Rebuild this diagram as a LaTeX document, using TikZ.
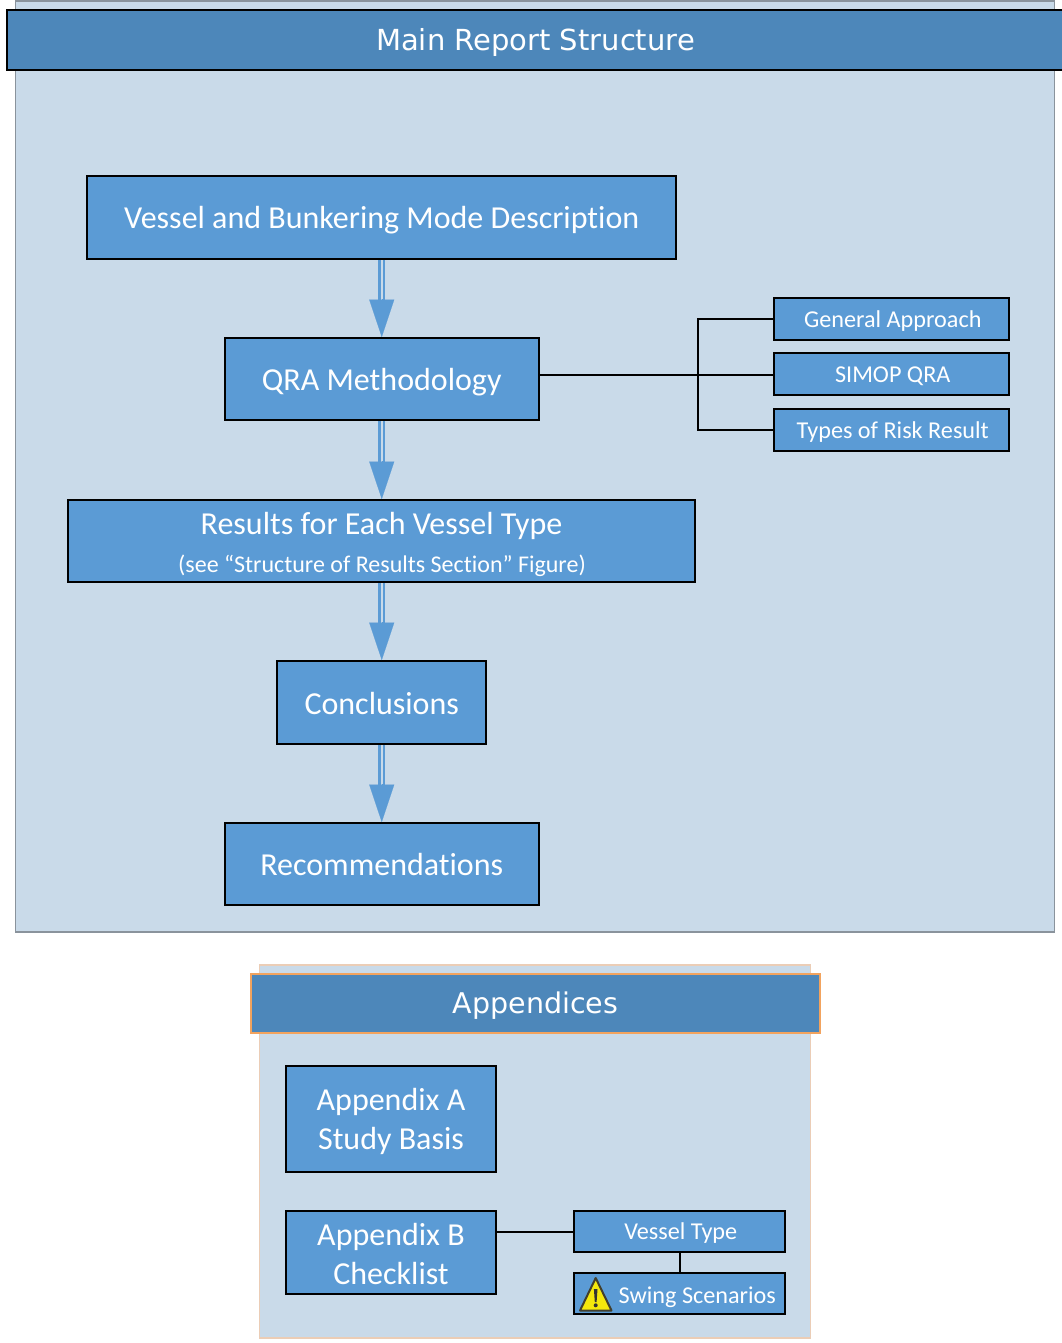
\documentclass[tikz,border=0pt]{standalone}
\usepackage{fontspec}
\setmainfont[Ligatures=NoCommon]{Carlito}
\newfontfamily\titlefont{DejaVu Sans}
\usetikzlibrary{arrows.meta}
\definecolor{panelfill}{HTML}{C9DAE9}
\definecolor{panelline}{HTML}{8A939C}
\definecolor{headfill}{HTML}{4D87BA}
\definecolor{boxfill}{HTML}{5B9BD5}
\definecolor{appline}{HTML}{EBCDB6}
\definecolor{headorange}{HTML}{F2A35E}
\tikzset{
  x=1pt,y=-1pt,
  panel/.style={anchor=north west,inner sep=0pt,outer sep=0pt,line width=1.5pt,fill=panelfill},
  head/.style={anchor=center,inner sep=0pt,line width=2pt,fill=headfill,text=white,text height=20pt,text depth=0pt},
  bigbox/.style={draw=black,line width=2pt,fill=boxfill,text=white,inner sep=0pt,align=center,font=\fontsize{32}{39}\selectfont},
  oneline/.style={text height=24pt,text depth=1pt},
  smallbox/.style={draw=black,line width=2pt,fill=boxfill,text=white,inner sep=0pt,align=center,font=\fontsize{24.2}{28}\selectfont,text height=17pt,text depth=1pt,execute at begin node={\hspace*{2.5pt}}},
  wire/.style={draw=black,line width=2pt},
  shaft/.style={draw=boxfill,line width=2.2pt,double=panelfill,double distance=2.5pt},
  tip/.style={draw=boxfill,line width=0.1pt,-{Triangle[length=37.5pt,width=25pt,color=boxfill]}},
}
\newcommand{\twolines}[3]{\raisebox{0pt}[\dimexpr\height+#1\relax][\dimexpr\depth-#1\relax]{\begin{tabular}{@{}c@{}}#2\\#3\end{tabular}}}
\begin{document}
\begin{tikzpicture}
\useasboundingbox[fill=white] (0,0) rectangle (1061,1343);
% panels
\node[panel,draw=panelline,minimum width=1039pt,minimum height=931pt] (mainpanel) at (15.5,1) {};
\node[panel,draw=appline,minimum width=551pt,minimum height=373pt] (apppanel) at (259.5,965) {};
% headers
\node[head,draw=black,minimum width=1061pt,minimum height=60pt,font=\titlefont\fontsize{29}{30}\selectfont] (mainhead) at (537.5,40) {};
\node[font=\titlefont\fontsize{29}{30}\selectfont,text=white,anchor=base,inner sep=0pt] (mainheadtext) at (535.5,50.5) {Main Report Structure};
\node[head,draw=headorange,minimum width=569pt,minimum height=59pt,font=\titlefont\fontsize{28.5}{30}\selectfont] (apphead) at (535.5,1003.5) {Appendices};
% main flow
\node[bigbox,oneline,minimum width=589pt,minimum height=83pt] (vessel) at (381.75,217.5) {Vessel and Bunkering Mode Description};
\node[bigbox,oneline,minimum width=314pt,minimum height=82pt] (qra) at (381.75,379) {QRA Methodology};
\node[bigbox,minimum width=627pt,minimum height=82pt] (results) at (381.75,541) {};
\node[text=white,font=\fontsize{32}{36}\selectfont,anchor=base,inner sep=0pt] (resultsa) at (381.5,534) {Results for Each Vessel Type};
\node[text=white,font=\fontsize{24}{28}\selectfont,anchor=base,inner sep=0pt] (resultsb) at (382,572) {(see “Structure of Results Section” Figure)};
\node[bigbox,oneline,minimum width=209pt,minimum height=83pt] (concl) at (381.75,702.5) {Conclusions};
\node[bigbox,oneline,minimum width=314pt,minimum height=82pt] (recs) at (381.75,864) {Recommendations};
% sub boxes
\node[smallbox,minimum width=235pt,minimum height=42pt] (general) at (891.5,319) {General Approach};
\node[smallbox,minimum width=235pt,minimum height=42pt] (simop) at (891.5,374) {SIMOP QRA};
\node[smallbox,minimum width=235pt,minimum height=42pt] (types) at (891.5,430) {Types of Risk Result};
% appendices
\node[bigbox,minimum width=210pt,minimum height=106pt] (appa) at (391,1119) {\twolines{3pt}{Appendix A}{Study Basis}};
\node[bigbox,minimum width=210pt,minimum height=83pt] (appb) at (391,1252.5) {\twolines{4.5pt}{Appendix B}{Checklist}};
\node[smallbox,minimum width=211pt,minimum height=41pt] (vtype) at (679.5,1231.5) {Vessel Type};
\node[smallbox,minimum width=211pt,minimum height=41pt] (swing) at (679.5,1293.5) {};
\node[text=white,font=\fontsize{24.2}{28}\selectfont,anchor=base west,inner sep=0pt] (swingtext) at (618.5,1303) {Swing Scenarios};
% warning icon
\fill[yellow!95!black,draw=black!70!olive,line width=2pt,line join=round] (595.7,1278) -- (611.5,1310.5) -- (580,1310.5) -- cycle;
\fill[black!80] (593.9,1289) -- (597.5,1289) -- (596.6,1302) -- (594.8,1302) -- cycle;
\fill[black!80] (595.7,1305.3) circle (2pt);
% arrows
\foreach \a/\b in {vessel/qra,qra/results,results/concl,concl/recs}{
  \draw[shaft] (\a.south) -- ([yshift=37pt]\b.north);
  \draw[tip] ([yshift=38pt]\b.north) -- (\b.north);
}
% wires
\coordinate (trunk) at (698,375);
\draw[wire] (qra.east |- trunk) -- (simop.west |- trunk);
\draw[wire] (general.west) -| (trunk);
\draw[wire] (types.west) -| (trunk);
\coordinate (bwire) at (535,1231.5);
\draw[wire] (appb.east |- bwire) -- (vtype.west |- bwire);
\draw[wire] (vtype.south) -- (swing.north);
\end{tikzpicture}
\end{document}
